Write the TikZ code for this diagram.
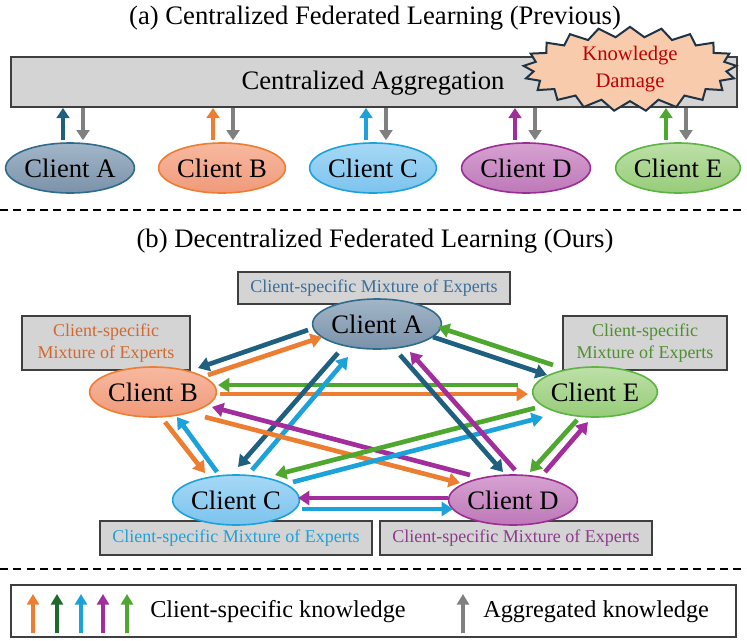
\documentclass[tikz,border=0pt]{standalone}
\usepackage{fontspec}
\setmainfont{Liberation Serif}
\usetikzlibrary{arrows.meta,shapes.geometric,shapes.symbols,calc}
\definecolor{aA}{HTML}{1F5F80}
\definecolor{aB}{HTML}{ED7D31}
\definecolor{aC}{HTML}{1CA2DA}
\definecolor{aD}{HTML}{A12E9C}
\definecolor{aE}{HTML}{4EA72E}
\definecolor{aDG}{HTML}{1D6B2C}
\definecolor{aG}{HTML}{808080}
\definecolor{lA}{HTML}{2F6B8C}
\definecolor{lB}{HTML}{ED7D31}
\definecolor{lC}{HTML}{1CA2DA}
\definecolor{lD}{HTML}{9B2E93}
\definecolor{lE}{HTML}{5DB344}
\definecolor{fA1}{HTML}{A3B6C8}
\definecolor{fA2}{HTML}{7A92AA}
\definecolor{fB1}{HTML}{F7B9A0}
\definecolor{fB2}{HTML}{F09A7A}
\definecolor{fC1}{HTML}{A6D8F5}
\definecolor{fC2}{HTML}{7CC3EE}
\definecolor{fD1}{HTML}{D6A2D1}
\definecolor{fD2}{HTML}{BE78B8}
\definecolor{fE1}{HTML}{BDE0A8}
\definecolor{fE2}{HTML}{97CC78}
\definecolor{tA}{HTML}{3A6E9C}
\definecolor{tB}{HTML}{D0692F}
\definecolor{tC}{HTML}{1CA2DA}
\definecolor{tD}{HTML}{8E3A8E}
\definecolor{tE}{HTML}{4E8F2E}
\definecolor{boxfill}{HTML}{D4D4D4}
\definecolor{boxline}{HTML}{3F3F3F}
\definecolor{starfill}{HTML}{F8CBAD}
\definecolor{starline}{HTML}{1F3345}
\definecolor{dmg}{HTML}{C00000}
\begin{document}
\begin{tikzpicture}[x=0.75pt,y=-0.75pt,
  client/.style={ellipse, line width=1.2pt, minimum width=87.75pt, minimum height=37.5pt, inner sep=0pt, font=\fontsize{20}{24}\selectfont},
  clA/.style={client, draw=lA, top color=fA1, bottom color=fA2},
  clB/.style={client, draw=lB, top color=fB1, bottom color=fB2},
  clC/.style={client, draw=lC, top color=fC1, bottom color=fC2},
  clD/.style={client, draw=lD, top color=fD1, bottom color=fD2},
  clE/.style={client, draw=lE, top color=fE1, bottom color=fE2},
  moe/.style={draw=boxline, fill=boxfill, line width=1.2pt, inner sep=0pt, align=center, font=\fontsize{13.5}{17}\selectfont},
  title/.style={font=\fontsize{20}{24}\selectfont, inner sep=0pt},
  kn/.style={line width=3.5pt, -{Triangle[width=10.5pt,length=8.5pt]}},
  up/.style={line width=3.2pt, -{Triangle[width=9.5pt,length=7.5pt]}},
  legarrow/.style={line width=3pt, -{Triangle[width=9pt,length=8pt]}},
  sep/.style={line width=1.5pt, dash pattern=on 6pt off 4pt}
]
\useasboundingbox (0,0) rectangle (747,640);

% ---------- (a) ----------
\node[title] (ta) at (375,18) {(a) Centralized Federated Learning (Previous)};
\node[draw=boxline, fill=boxfill, line width=1.5pt, minimum width=544.5pt, minimum height=37.5pt, inner sep=0pt] (agg) at (374,82) {};
\node[title] (aggt) at (373,83) {Centralized Aggregation};
\node[starburst, random starburst=0, starburst points=21, starburst point height=7.5pt,
      draw=starline, fill=starfill, line width=1.5pt, inner sep=0pt,
      minimum width=160pt, minimum height=44pt, align=center,
      font=\fontsize{15.5}{20}\selectfont, text=dmg] (kd) at (630,69) {Knowledge\\Damage};

\node[clA] (ca) at (70,168) {Client A};
\node[clB] (cb) at (222,168) {Client B};
\node[clC] (cc) at (373,168) {Client C};
\node[clD] (cd) at (526,168) {Client D};
\node[clE] (ce) at (678,168) {Client E};

\foreach \n/\c/\u/\d in {ca/aA/-7/13, cb/aB/-9/11, cc/aC/-7/13, cd/aD/-11/9, ce/aE/-12/8}{
  \coordinate (u\n) at ($(\n.north)+(\u,-2)$);
  \coordinate (d\n) at ($(\n.north)+(\d,-2)$);
  \draw[up, \c] (u\n) -- (u\n |- agg.south);
  \draw[up, aG] (d\n |- agg.south) -- (d\n);
}

\draw[sep] (0,210) -- (747,210);

% ---------- (b) ----------
\node[title] (tb) at (375,241) {(b) Decentralized Federated Learning (Ours)};

\node[moe, minimum width=204pt, minimum height=24pt, text=tA] (mA) at (374,288) {Client-specific Mixture of Experts};
\node[moe, minimum width=126pt, minimum height=40.5pt, text=tB] (mB) at (106,343) {Client-specific\\Mixture of Experts};
\node[moe, minimum width=123pt, minimum height=40.5pt, text=tE] (mE) at (645,343) {Client-specific\\Mixture of Experts};
\node[moe, minimum width=204pt, minimum height=25.5pt, text=tC] (mC) at (236,538) {Client-specific Mixture of Experts};
\node[moe, minimum width=204pt, minimum height=25.5pt, text=tD] (mD) at (516,538) {Client-specific Mixture of Experts};

\node[clA] (A) at (377,324) {Client A};
\node[clB] (B) at (153,392) {Client B};
\node[clE] (E) at (595,392) {Client E};
\node[clC] (C) at (236,500) {Client C};
\node[clD] (D) at (513,500) {Client D};

% A-B
\draw[kn, aA] ($(A)+(-69,6)$) -- ($(B)+(45,-24)$);
\draw[kn, aB] ($(B)+(55,-17)$) -- ($(A)+(-55,13)$);
% B-E
\draw[kn, aE] ($(E)+(-77,-7)$) -- ($(B)+(65,-7)$);
\draw[kn, aB] ($(B)+(67,2)$) -- ($(E)+(-67,2)$);
% A-C
\draw[kn, aA] ($(A)+(-39,29)$) -- ($(C)+(2,-33)$);
\draw[kn, aC] ($(C)+(16,-30)$) -- ($(A)+(-29,33)$);
% B-D
\draw[kn, aD] ($(D)+(-43,-25)$) -- ($(B)+(59,15)$);
\draw[kn, aB] ($(B)+(52,25)$) -- ($(D)+(-53,-17)$);
% B-C
\draw[kn, aB] ($(B)+(12,30)$) -- ($(C)+(-31,-27)$);
\draw[kn, aC] ($(C)+(-19,-28)$) -- ($(B)+(24,25)$);
% C-E
\draw[kn, aE] ($(E)+(-60,16)$) -- ($(C)+(39,-25)$);
\draw[kn, aC] ($(C)+(57,-18)$) -- ($(E)+(-52,25)$);
% C-D
\draw[kn, aD] ($(D)+(-65,-2)$) -- ($(C)+(62,-2)$);
\draw[kn, aC] ($(C)+(66,9)$) -- ($(D)+(-60,9)$);
% A-E
\draw[kn, aE] ($(E)+(-42,-27)$) -- ($(A)+(61,3)$);
\draw[kn, aA] ($(A)+(56,13)$) -- ($(E)+(-48,-17)$);
% A-D
\draw[kn, aA] ($(A)+(23,31)$) -- ($(D)+(-10,-28)$);
\draw[kn, aD] ($(D)+(2,-30)$) -- ($(A)+(33,28)$);
% D-E
\draw[kn, aE] ($(E)+(-18,28)$) -- ($(D)+(17,-28)$);
\draw[kn, aD] ($(D)+(32,-28)$) -- ($(E)+(-7,30)$);

\draw[sep] (0,569) -- (747,569);

% ---------- legend ----------
\node[draw=boxline, line width=1.5pt, minimum width=543.75pt, minimum height=39pt, inner sep=0pt] (leg) at (373.5,610.5) {};
\foreach \x/\c [count=\i] in {33/aB, 57/aDG, 81/aC, 103/aD, 127/aE}{
  \coordinate (lb\i) at (\x,633);
  \draw[legarrow, \c] (lb\i) -- ++(0,-39);
}
\node[anchor=west, font=\fontsize{18.2}{22}\selectfont, inner sep=0pt] (lt1) at (150,612) {Client-specific knowledge};
\coordinate (lg) at (463,633);
\draw[legarrow, aG] (lg) -- ++(0,-39);
\node[anchor=west, font=\fontsize{18.2}{22}\selectfont, inner sep=0pt] (lt2) at (483,612) {Aggregated knowledge};
\end{tikzpicture}
\end{document}
